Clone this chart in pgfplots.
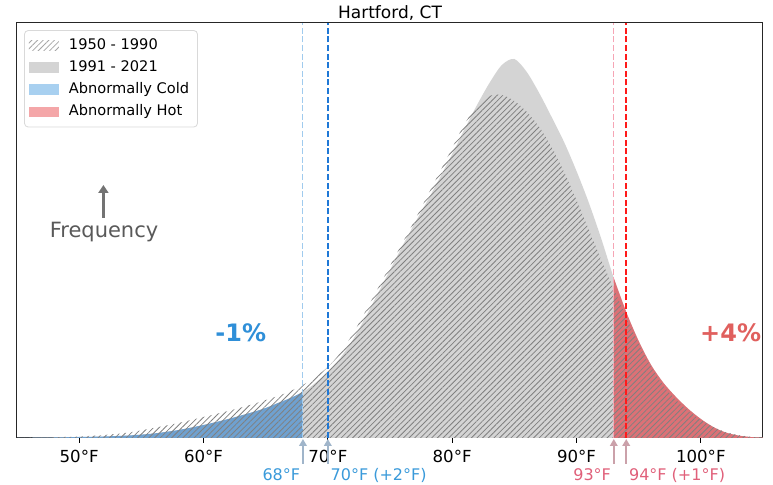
\documentclass[border=0pt]{standalone}
\usepackage{pgfplots}
\pgfplotsset{compat=1.18}
\usepackage{pgfplotstable}
\usepackage{fontspec}
\setmainfont{DejaVu Sans}
\usetikzlibrary{patterns.meta,arrows.meta}

\definecolor{grayfill}{HTML}{D4D4D4}
\definecolor{coldfill}{HTML}{6FA1D0}
\definecolor{hotfill}{HTML}{DC7176}
\definecolor{coldleg}{HTML}{A8D0F0}
\definecolor{hotleg}{HTML}{F4A6A8}
\definecolor{blueline}{HTML}{1F78D6}
\definecolor{bluelight}{HTML}{A0CBEE}
\definecolor{redline}{HTML}{FF1A1A}
\definecolor{pinklight}{HTML}{F6A5B5}
\definecolor{bluetext}{HTML}{3A9ADA}
\definecolor{redtext}{HTML}{E0607A}
\definecolor{coldpct}{HTML}{2F8FD8}
\definecolor{hotpct}{HTML}{E0605E}
\definecolor{arrowblue}{HTML}{A0B5CA}
\definecolor{arrowred}{HTML}{CBA1AA}

% old period (hatched), height in arbitrary units
\pgfplotstableread{
t h
45 0
46 0.3
48 0.8
50 1.5
52 3
54 5.5
56 10
58 15
60 21
62 27
64 34
66 42
67 47
68 53
69 61
70 71
71 85
72 104
73 126
74 149
75 172
76 195
77 218
78 242
79 266
80 290
81 314
82 332
83 342
84 343
85 337
86 326
87 311
88 291
89 266
90 238
91 208
92 178
93 149
94 121
95 94
96 71
97 52
98 38
99 27
100 18
101 11
102 6
103 3
104 1.2
105 0.4
}\oldtbl

% recent period (grey)
\pgfplotstableread{
t h
45 0
46 0.2
48 0.5
50 1
52 1.5
54 2.5
56 4.5
58 8
60 13
62 19
64 26
65 30
66 35
67 40
68 46
69 55
70 66
71 80
72 98
73 120
74 144
75 168
76 192
77 215
78 237
79 260
80 284
81 309
82 333
83 355
84 373
85 379
86 366
87 345
88 321
89 296
90 267
91 235
92 199
93 160
94 126
95 97
96 73
97 55
98 41
99 29
100 19
101 11
102 5.5
103 2.5
104 1
105 0.3
}\newtbl

\begin{document}
\begin{tikzpicture}
\useasboundingbox (-8.5pt,-23.5pt) rectangle (378pt,219pt);
\begin{axis}[
  at={(0,0)}, anchor=south west, scale only axis,
  width=373pt, height=207.5pt,
  xmin=45, xmax=105, ymin=0, ymax=415,
  xtick={50,60,...,100},
  xticklabels={50°F,60°F,70°F,80°F,90°F,100°F},
  ytick=\empty,
  xtick pos=bottom,
  tick align=outside, major tick length=2.5pt,
  xtick style={black, line width=0.4pt},
  axis line style={line width=0.5pt, black!85},
  ticklabel style={font=\fontsize{8.3}{10}\selectfont},
  clip=false,
  legend cell align=left,
  legend image code/.code={\path[#1, draw=none, sharp corners] (0cm,-0.09cm) rectangle (0.53cm,0.09cm);},
  legend style={at={(0.0094,0.983)}, anchor=north west,
    font=\fontsize{7.3}{9}\selectfont, draw=black!15, rounded corners=2pt,
    fill=white, row sep=0pt, inner sep=2.2pt,
    /tikz/every odd column/.append style={column sep=3pt}},
]
\addlegendimage{pattern={Lines[angle=45,distance=2pt,line width=0.4pt]}, pattern color=black!35}
\addlegendentry{1950 - 1990}
\addlegendimage{fill=grayfill}
\addlegendentry{1991 - 2021}
\addlegendimage{fill=coldleg}
\addlegendentry{Abnormally Cold}
\addlegendimage{fill=hotleg}
\addlegendentry{Abnormally Hot}

% recent distribution
\addplot[forget plot, draw=none, fill=grayfill, smooth] table[x=t,y=h] {\newtbl} \closedcycle;
% cold and hot tails
\addplot[forget plot, draw=none, fill=coldfill, smooth, restrict x to domain=45:68] table[x=t,y=h] {\newtbl} \closedcycle;
\addplot[forget plot, draw=none, fill=hotfill, smooth, restrict x to domain=93:105] table[x=t,y=h] {\newtbl} \closedcycle;
% old distribution, hatched
\addplot[forget plot, draw=none, smooth, pattern={Lines[angle=45,distance=2pt,line width=0.4pt]}, pattern color=black!50] table[x=t,y=h] {\oldtbl} \closedcycle;

% thresholds
\addplot[forget plot, bluelight, line width=0.5pt, dash pattern=on 3pt off 1.3pt] coordinates {(68,0) (68,415)};
\addplot[forget plot, blueline, line width=0.8pt, dash pattern=on 3pt off 1.3pt] coordinates {(70,0) (70,415)};
\addplot[forget plot, pinklight, line width=0.5pt, dash pattern=on 3pt off 1.3pt] coordinates {(93,0) (93,415)};
\addplot[forget plot, redline, line width=0.8pt, dash pattern=on 3pt off 1.3pt] coordinates {(94,0) (94,415)};

% title
\node[anchor=base, font=\fontsize{8.5}{10}\selectfont, inner sep=0pt] at ([yshift=2.3pt]rel axis cs:0.5,1) {Hartford, CT};

% arrows under the axis
\draw[arrowblue, line width=1pt, -{Triangle[width=3.8pt,length=3.5pt]}] (axis cs:68,-26) -- (axis cs:68,-1);
\draw[arrowblue, line width=1pt, -{Triangle[width=3.8pt,length=3.5pt]}] (axis cs:70,-26) -- (axis cs:70,-1);
\draw[arrowred, line width=1pt, -{Triangle[width=3.8pt,length=3.5pt]}] (axis cs:93,-26) -- (axis cs:93,-1);
\draw[arrowred, line width=1pt, -{Triangle[width=3.8pt,length=3.5pt]}] (axis cs:94,-26) -- (axis cs:94,-1);

\node[anchor=east, text=bluetext, font=\fontsize{8}{10}\selectfont, inner sep=0pt] at (axis cs:67.8,-37) {68°F};
\node[anchor=west, text=bluetext, font=\fontsize{8}{10}\selectfont, inner sep=0pt] at (axis cs:70.2,-37) {70°F (+2°F)};
\node[anchor=east, text=redtext, font=\fontsize{8}{10}\selectfont, inner sep=0pt] at (axis cs:92.8,-37) {93°F};
\node[anchor=west, text=redtext, font=\fontsize{8}{10}\selectfont, inner sep=0pt] at (axis cs:94.2,-37) {94°F (+1°F)};

\node[text=coldpct, font=\fontsize{12}{14}\selectfont\bfseries] at (axis cs:63,105) {-1\%};
\node[text=hotpct, font=\fontsize{12}{14}\selectfont\bfseries] at (axis cs:102.4,105) {+4\%};

\draw[black!55, line width=1.3pt, -{Triangle[width=5pt,length=4pt]}] (axis cs:51.95,220) -- (axis cs:51.95,253);
\node[text=black!65, font=\fontsize{10.5}{12}\selectfont] at (axis cs:52,206) {Frequency};
\end{axis}
\end{tikzpicture}
\end{document}
